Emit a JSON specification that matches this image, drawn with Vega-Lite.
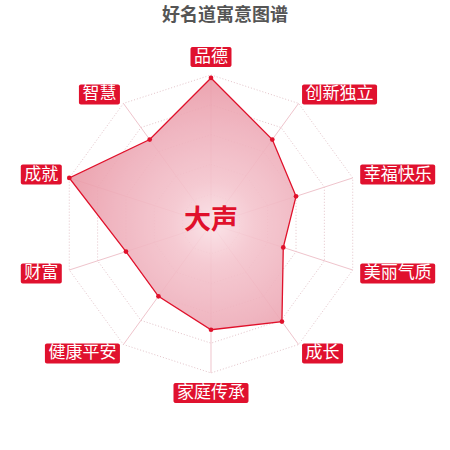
{
  "$schema": "https://vega.github.io/schema/vega-lite/v6.json",
  "autosize": "none",
  "padding": 0,
  "width": 450,
  "height": 450,
  "background": "white",
  "title": {
    "text": "好名道寓意图谱",
    "font": "Noto Sans CJK SC",
    "fontSize": 18,
    "fontWeight": "bold",
    "color": "#555555",
    "anchor": "middle",
    "offset": 0,
    "dy": 25
  },
  "config": {"view": {"stroke": null}},
  "datasets": {
    "scores": [
      {"name": "品德", "value": 98},
      {"name": "创新独立", "value": 70},
      {"name": "幸福快乐", "value": 60},
      {"name": "美丽气质", "value": 51},
      {"name": "成长", "value": 81},
      {"name": "家庭传承", "value": 71},
      {"name": "健康平安", "value": 60},
      {"name": "财富", "value": 60},
      {"name": "成就", "value": 100},
      {"name": "智慧", "value": 70}
    ],
    "rings": [
      {"level": 20, "name": ["品德", "创新独立", "幸福快乐", "美丽气质", "成长", "家庭传承", "健康平安", "财富", "成就", "智慧"]},
      {"level": 40, "name": ["品德", "创新独立", "幸福快乐", "美丽气质", "成长", "家庭传承", "健康平安", "财富", "成就", "智慧"]},
      {"level": 60, "name": ["品德", "创新独立", "幸福快乐", "美丽气质", "成长", "家庭传承", "健康平安", "财富", "成就", "智慧"]},
      {"level": 80, "name": ["品德", "创新独立", "幸福快乐", "美丽气质", "成长", "家庭传承", "健康平安", "财富", "成就", "智慧"]},
      {"level": 100, "name": ["品德", "创新独立", "幸福快乐", "美丽气质", "成长", "家庭传承", "健康平安", "财富", "成就", "智慧"]}
    ],
    "center": [{"label": "大声"}]
  },
  "layer": [
    {
      "data": {"name": "rings"},
      "transform": [
        {"flatten": ["name"]},
        {"window": [{"op": "row_number", "as": "idx"}], "groupby": ["level"]},
        {"calculate": "(datum.idx - 1) * PI / 5", "as": "angle"},
        {"calculate": "datum.level * sin(datum.angle)", "as": "gx"},
        {"calculate": "datum.level * cos(datum.angle)", "as": "gy"}
      ],
      "mark": {"type": "line", "interpolate": "linear-closed", "stroke": "#e3c3c9", "strokeWidth": 1, "strokeDash": [1, 2]},
      "encoding": {
        "x": {"field": "gx", "type": "quantitative", "scale": {"domain": [-141.6, 160.4], "nice": false, "zero": false}, "axis": null},
        "y": {"field": "gy", "type": "quantitative", "scale": {"domain": [-151.7, 150.3], "nice": false, "zero": false}, "axis": null},
        "detail": {"field": "level", "type": "nominal"},
        "order": {"field": "idx", "type": "quantitative"}
      }
    },
    {
      "data": {"name": "scores"},
      "transform": [
        {"window": [{"op": "row_number", "as": "idx"}]},
        {"calculate": "(datum.idx - 1) * PI / 5", "as": "angle"},
        {"calculate": "0", "as": "ox"},
        {"calculate": "0", "as": "oy"},
        {"calculate": "100 * sin(datum.angle)", "as": "ex"},
        {"calculate": "100 * cos(datum.angle)", "as": "ey"}
      ],
      "mark": {"type": "rule", "stroke": "#efc4cc", "strokeWidth": 1},
      "encoding": {
        "x": {"field": "ox", "type": "quantitative"},
        "y": {"field": "oy", "type": "quantitative"},
        "x2": {"field": "ex"},
        "y2": {"field": "ey"}
      }
    },
    {
      "data": {"name": "scores"},
      "transform": [
        {"window": [{"op": "row_number", "as": "idx"}]},
        {"calculate": "(datum.idx - 1) * PI / 5", "as": "angle"},
        {"calculate": "datum.value * sin(datum.angle)", "as": "px"},
        {"calculate": "datum.value * cos(datum.angle)", "as": "py"}
      ],
      "layer": [
        {
          "mark": {
            "type": "line",
            "interpolate": "linear-closed",
            "filled": true,
            "fillOpacity": 0.9,
            "fill": {
              "gradient": "radial",
              "x1": 0.62, "y1": 0.58, "r1": 0,
              "x2": 0.62, "y2": 0.58, "r2": 0.66,
              "stops": [
                {"offset": 0, "color": "#fae1e6"},
                {"offset": 0.25, "color": "#f4c4cd"},
                {"offset": 0.6, "color": "#eeaeba"},
                {"offset": 1, "color": "#e8929f"}
              ]
            },
            "strokeWidth": 0
          },
          "encoding": {
            "x": {"field": "px", "type": "quantitative"},
            "y": {"field": "py", "type": "quantitative"},
            "order": {"field": "idx", "type": "quantitative"}
          }
        },
        {
          "mark": {"type": "line", "interpolate": "linear-closed", "stroke": "#e0112b", "strokeWidth": 1.3},
          "encoding": {
            "x": {"field": "px", "type": "quantitative"},
            "y": {"field": "py", "type": "quantitative"},
            "order": {"field": "idx", "type": "quantitative"}
          }
        },
        {
          "mark": {"type": "circle", "color": "#e0112b", "opacity": 1, "size": 22},
          "encoding": {
            "x": {"field": "px", "type": "quantitative"},
            "y": {"field": "py", "type": "quantitative"}
          }
        }
      ]
    },
    {
      "data": {"name": "scores"},
      "transform": [
        {"window": [{"op": "row_number", "as": "idx"}]},
        {"calculate": "(datum.idx - 1) * PI / 5", "as": "angle"},
        {"calculate": "length(datum.name)", "as": "n"},
        {"calculate": "sin(datum.angle)", "as": "sx"},
        {"calculate": "cos(datum.angle)", "as": "cy"},
        {"calculate": "107.4 * datum.sx + (datum.sx > 0.1 ? (17 * datum.n + 1) / 2 / 1.49 : datum.sx < -0.1 ? -(17 * datum.n + 1) / 2 / 1.49 : 0)", "as": "bx"},
        {"calculate": "107.4 * datum.cy + (datum.cy > 0.99 ? 7 / 1.49 : datum.cy < -0.99 ? -9 / 1.49 : 0)", "as": "by"},
        {"calculate": "(17 * datum.n + 7) / 2 / 1.49", "as": "hw"},
        {"calculate": "datum.bx - datum.hw", "as": "bx1"},
        {"calculate": "datum.bx + datum.hw", "as": "bx2"},
        {"calculate": "datum.by - 10 / 1.49", "as": "by1"},
        {"calculate": "datum.by + 10 / 1.49", "as": "by2"}
      ],
      "layer": [
        {
          "mark": {"type": "rect", "color": "#e0112e", "cornerRadius": 2},
          "encoding": {
            "x": {"field": "bx1", "type": "quantitative"},
            "x2": {"field": "bx2"},
            "y": {"field": "by1", "type": "quantitative"},
            "y2": {"field": "by2"}
          }
        },
        {
          "mark": {"type": "text", "color": "white", "font": "Noto Sans CJK SC", "fontSize": 17, "align": "center", "baseline": "middle"},
          "encoding": {
            "x": {"field": "bx", "type": "quantitative"},
            "y": {"field": "by", "type": "quantitative"},
            "text": {"field": "name"}
          }
        }
      ]
    },
    {
      "data": {"name": "center"},
      "transform": [
        {"calculate": "0", "as": "ox"},
        {"calculate": "0", "as": "oy"}
      ],
      "mark": {"type": "text", "color": "#e0102b", "font": "Noto Sans CJK SC", "fontSize": 27, "fontWeight": "bold", "align": "center", "baseline": "middle", "dy": -3},
      "encoding": {
        "x": {"field": "ox", "type": "quantitative"},
        "y": {"field": "oy", "type": "quantitative"},
        "text": {"field": "label"}
      }
    }
  ]
}
